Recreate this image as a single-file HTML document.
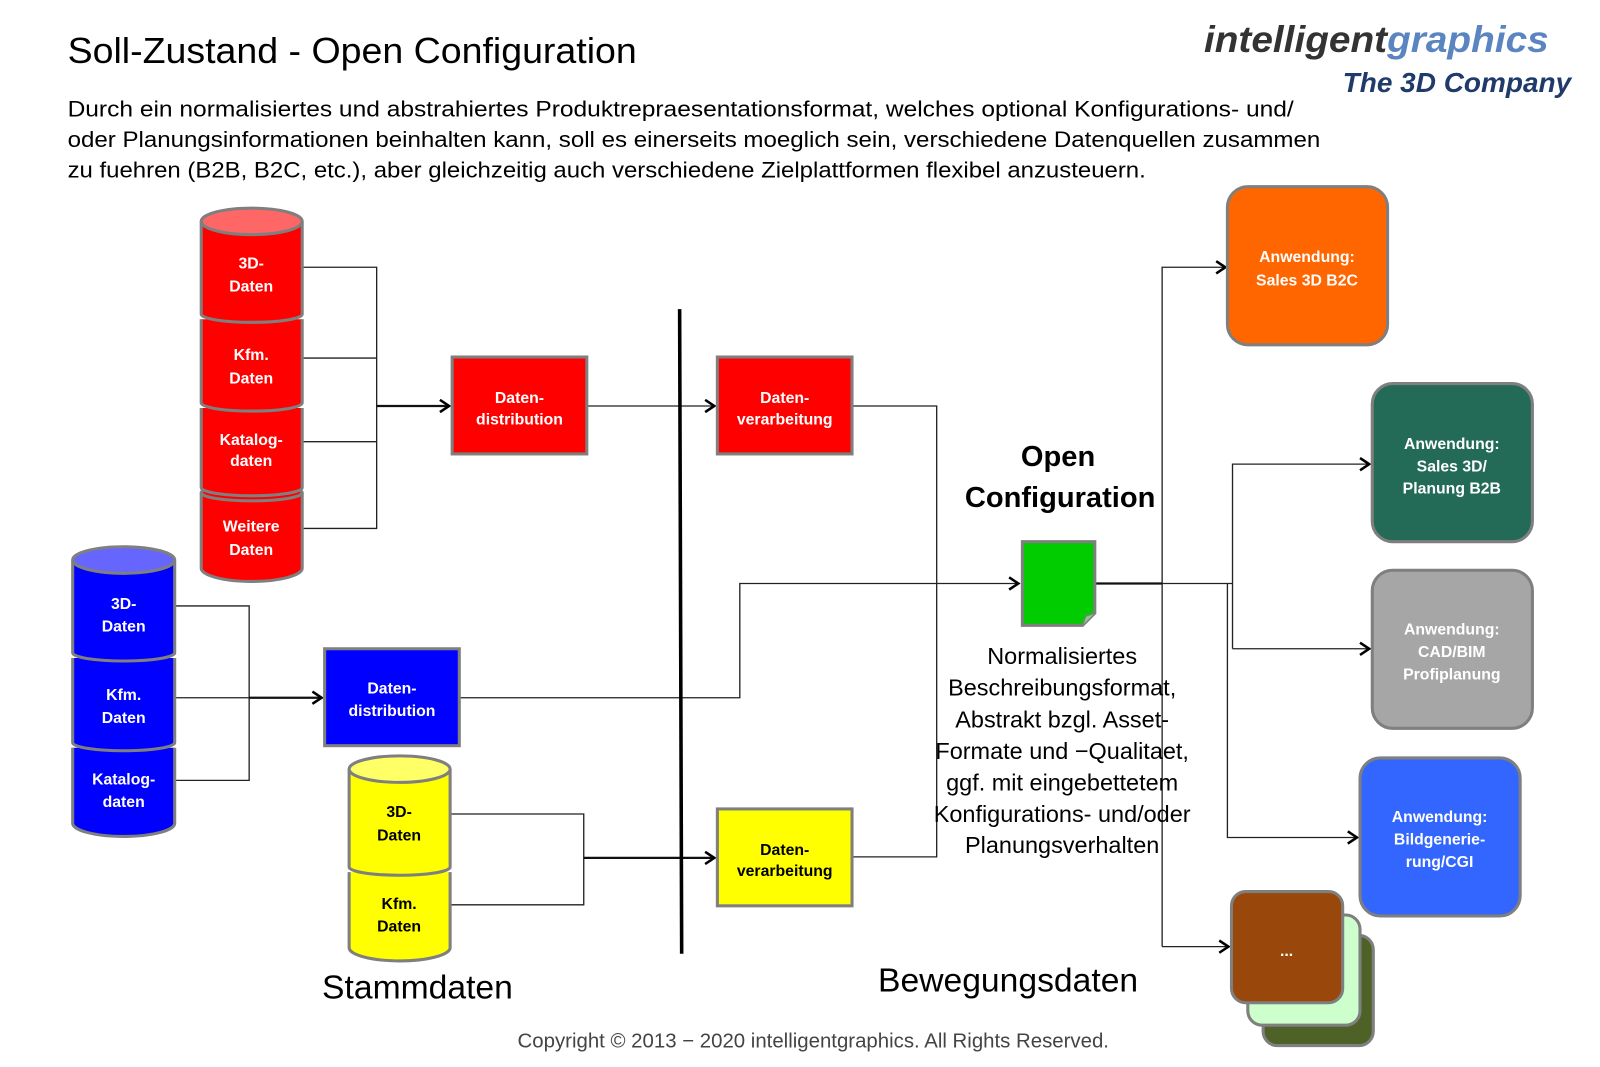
<!DOCTYPE html>
<html><head><meta charset="utf-8">
<style>
html,body{margin:0;padding:0;background:#fff;}
svg{display:block;}
text{font-family:"Liberation Sans","DejaVu Sans",sans-serif;}
.w{fill:#fff;font-weight:bold;font-size:15.5px;text-anchor:middle;}
.ln{stroke:#222;stroke-width:1.3;fill:none;}
.lt{stroke:#111;stroke-width:2.2;fill:none;}
</style></head><body>
<svg width="1600" height="1067" viewBox="0 0 1568 1046" xmlns="http://www.w3.org/2000/svg">
<defs>
<marker id="ar" markerWidth="14" markerHeight="14" refX="11" refY="7" orient="auto" markerUnits="userSpaceOnUse">
<path d="M2,1 L11,7 L2,13" fill="none" stroke="#000" stroke-width="2.5"/>
</marker>
</defs>
<!-- title -->
<text x="66" y="62" font-size="35" fill="#000" textLength="558" lengthAdjust="spacingAndGlyphs">Soll-Zustand - Open Configuration</text>
<text x="1180" y="51" font-size="36" font-weight="bold" font-style="italic" textLength="338" lengthAdjust="spacingAndGlyphs"><tspan fill="#333">intelligent</tspan><tspan fill="#5b85c0">graphics</tspan></text>
<text x="1316" y="90" font-size="27" font-weight="bold" font-style="italic" fill="#1f3a6b" textLength="224" lengthAdjust="spacingAndGlyphs">The 3D Company</text>
<g font-size="22" fill="#000">
<text x="66" y="114" textLength="1202" lengthAdjust="spacingAndGlyphs">Durch ein normalisiertes und abstrahiertes Produktrepraesentationsformat, welches optional Konfigurations- und/</text>
<text x="66" y="144" textLength="1228" lengthAdjust="spacingAndGlyphs">oder Planungsinformationen beinhalten kann, soll es einerseits moeglich sein, verschiedene Datenquellen zusammen</text>
<text x="66" y="174" textLength="1057" lengthAdjust="spacingAndGlyphs">zu fuehren (B2B, B2C, etc.), aber gleichzeitig auch verschiedene Zielplattformen flexibel anzusteuern.</text>
</g>

<!-- connectors -->
<g class="ln">
<path d="M296,262 H369 V518 H296 M296,351 H369 M296,433 H369"/>
<path d="M575,398 H700" marker-end="url(#ar)"/>
<path d="M835,398 H918 V840 H835"/>
<path d="M171,594 H244 V765 H171 M171,684 H244"/>
<path d="M450,684 H725 V572 H998" marker-end="url(#ar)"/>
<path d="M441,798 H572 V887 H441"/>
<path d="M1073,572 H1208"/>
<path d="M1139,928 V262 H1201" marker-end="url(#ar)"/>
<path d="M1139,928 H1204" marker-end="url(#ar)"/>
<path d="M1208,636 V455 H1342" marker-end="url(#ar)"/>
<path d="M1208,636 H1342" marker-end="url(#ar)"/>
<path d="M1203,572 V821 H1330" marker-end="url(#ar)"/>
</g>
<g class="lt">
<path d="M369,398 H440" marker-end="url(#ar)"/>
<path d="M244,684 H315" marker-end="url(#ar)"/>
<path d="M572,841 H700" marker-end="url(#ar)"/>
<path d="M1073,572 H1139"/>
</g>
<line x1="666" y1="303" x2="668" y2="935" stroke="#000" stroke-width="3.5"/>

<!-- red cylinders -->
<g stroke="#7f7f7f" stroke-width="3" fill="#ff0000">
<path d="M197,483 V557 A49.5,13 0 0 0 296,557 V483"/>
<ellipse cx="246.5" cy="483" rx="49.5" ry="8" />
<path d="M197,400 V478 A49.5,8 0 0 0 296,478 V400"/>
<path d="M197,313 V395 A49.5,8 0 0 0 296,395 V313"/>
<path d="M197,217 V308 A49.5,8 0 0 0 296,308 V217"/>
<ellipse cx="246.5" cy="217" rx="49.5" ry="13" fill="#ff6666"/>
</g>
<text class="w" x="246" y="263">3D-</text><text class="w" x="246" y="286">Daten</text>
<text class="w" x="246" y="353">Kfm.</text><text class="w" x="246" y="376">Daten</text>
<text class="w" x="246" y="436">Katalog-</text><text class="w" x="246" y="457">daten</text>
<text class="w" x="246" y="521">Weitere</text><text class="w" x="246" y="544">Daten</text>

<!-- blue cylinders -->
<g stroke="#7f7f7f" stroke-width="3" fill="#0000ff">
<path d="M71,733 V807 A50,13 0 0 0 171,807 V733"/>
<path d="M71,645 V728 A50,8 0 0 0 171,728 V645"/>
<path d="M71,549 V640 A50,8 0 0 0 171,640 V549"/>
<ellipse cx="121" cy="549" rx="50" ry="13" fill="#6666ff"/>
</g>
<text class="w" x="121" y="597">3D-</text><text class="w" x="121" y="619">Daten</text>
<text class="w" x="121" y="686">Kfm.</text><text class="w" x="121" y="709">Daten</text>
<text class="w" x="121" y="769">Katalog-</text><text class="w" x="121" y="791">daten</text>

<!-- yellow cylinders -->
<g stroke="#7f7f7f" stroke-width="3" fill="#ffff00">
<path d="M342,855 V929 A49.5,13 0 0 0 441,929 V855"/>
<path d="M342,754 V850 A49.5,8 0 0 0 441,850 V754"/>
<ellipse cx="391.5" cy="754" rx="49.5" ry="13" fill="#ffff66"/>
</g>
<g font-weight="bold" font-size="15.5" text-anchor="middle" fill="#000">
<text x="391" y="801">3D-</text><text x="391" y="824">Daten</text>
<text x="391" y="891">Kfm.</text><text x="391" y="913">Daten</text>
</g>

<!-- boxes -->
<g stroke="#7f7f7f" stroke-width="3">
<rect x="443" y="350" width="132" height="95" fill="#ff0000"/>
<rect x="703" y="350" width="132" height="95" fill="#ff0000"/>
<rect x="318" y="636" width="132" height="95" fill="#0000ff"/>
<rect x="703" y="793" width="132" height="95" fill="#ffff00"/>
</g>
<text class="w" x="509" y="395">Daten-</text><text class="w" x="509" y="416">distribution</text>
<text class="w" x="769" y="395">Daten-</text><text class="w" x="769" y="416">verarbeitung</text>
<text class="w" x="384" y="680">Daten-</text><text class="w" x="384" y="702">distribution</text>
<g font-weight="bold" font-size="15.5" text-anchor="middle" fill="#000">
<text x="769" y="838">Daten-</text><text x="769" y="859">verarbeitung</text>
</g>

<!-- green doc -->
<path d="M1002,531 H1073 V601 L1061,613 H1002 Z" fill="#00cc00" stroke="#7f7f7f" stroke-width="3"/>
<path d="M1061,613 L1064,604 L1073,601" fill="#88cc88" stroke="#7f7f7f" stroke-width="1.5"/>

<g font-size="28.5" font-weight="bold" text-anchor="middle" fill="#000">
<text x="1037" y="457">Open</text>
<text x="1039" y="497">Configuration</text>
</g>
<g font-size="23" text-anchor="middle" fill="#000">
<text x="1041" y="651">Normalisiertes</text>
<text x="1041" y="682">Beschreibungsformat,</text>
<text x="1041" y="713">Abstrakt bzgl. Asset-</text>
<text x="1041" y="744">Formate und −Qualitaet,</text>
<text x="1041" y="775">ggf. mit eingebettetem</text>
<text x="1041" y="806">Konfigurations- und/oder</text>
<text x="1041" y="836">Planungsverhalten</text>
</g>

<!-- application boxes -->
<g stroke="#7f7f7f" stroke-width="3">
<rect x="1203" y="183" width="157" height="155" rx="20" fill="#ff6600"/>
<rect x="1345" y="376" width="157" height="155" rx="20" fill="#236b56"/>
<rect x="1345" y="559" width="157" height="155" rx="20" fill="#a6a6a6"/>
<rect x="1333" y="743" width="157" height="155" rx="20" fill="#3366ff"/>
<rect x="1238" y="917" width="108" height="108" rx="14" fill="#4e6228"/>
<rect x="1223" y="897" width="110" height="108" rx="14" fill="#ccffcc"/>
<rect x="1207" y="874" width="109" height="109" rx="14" fill="#99470a"/>
</g>
<text class="w" x="1281" y="257">Anwendung:</text><text class="w" x="1281" y="280">Sales 3D B2C</text>
<text class="w" x="1423" y="440">Anwendung:</text><text class="w" x="1423" y="462">Sales 3D/</text><text class="w" x="1423" y="484">Planung B2B</text>
<text class="w" x="1423" y="622">Anwendung:</text><text class="w" x="1423" y="644">CAD/BIM</text><text class="w" x="1423" y="666">Profiplanung</text>
<text class="w" x="1411" y="806">Anwendung:</text><text class="w" x="1411" y="828">Bildgenerie-</text><text class="w" x="1411" y="850">rung/CGI</text>
<text class="w" x="1261" y="937" font-weight="normal">...</text>

<text x="409" y="979" font-size="33" text-anchor="middle" fill="#000">Stammdaten</text>
<text x="988" y="972" font-size="33" text-anchor="middle" fill="#000">Bewegungsdaten</text>
<text x="797" y="1027" font-size="20" text-anchor="middle" fill="#444">Copyright © 2013 − 2020 intelligentgraphics. All Rights Reserved.</text>
</svg>
</body></html>
